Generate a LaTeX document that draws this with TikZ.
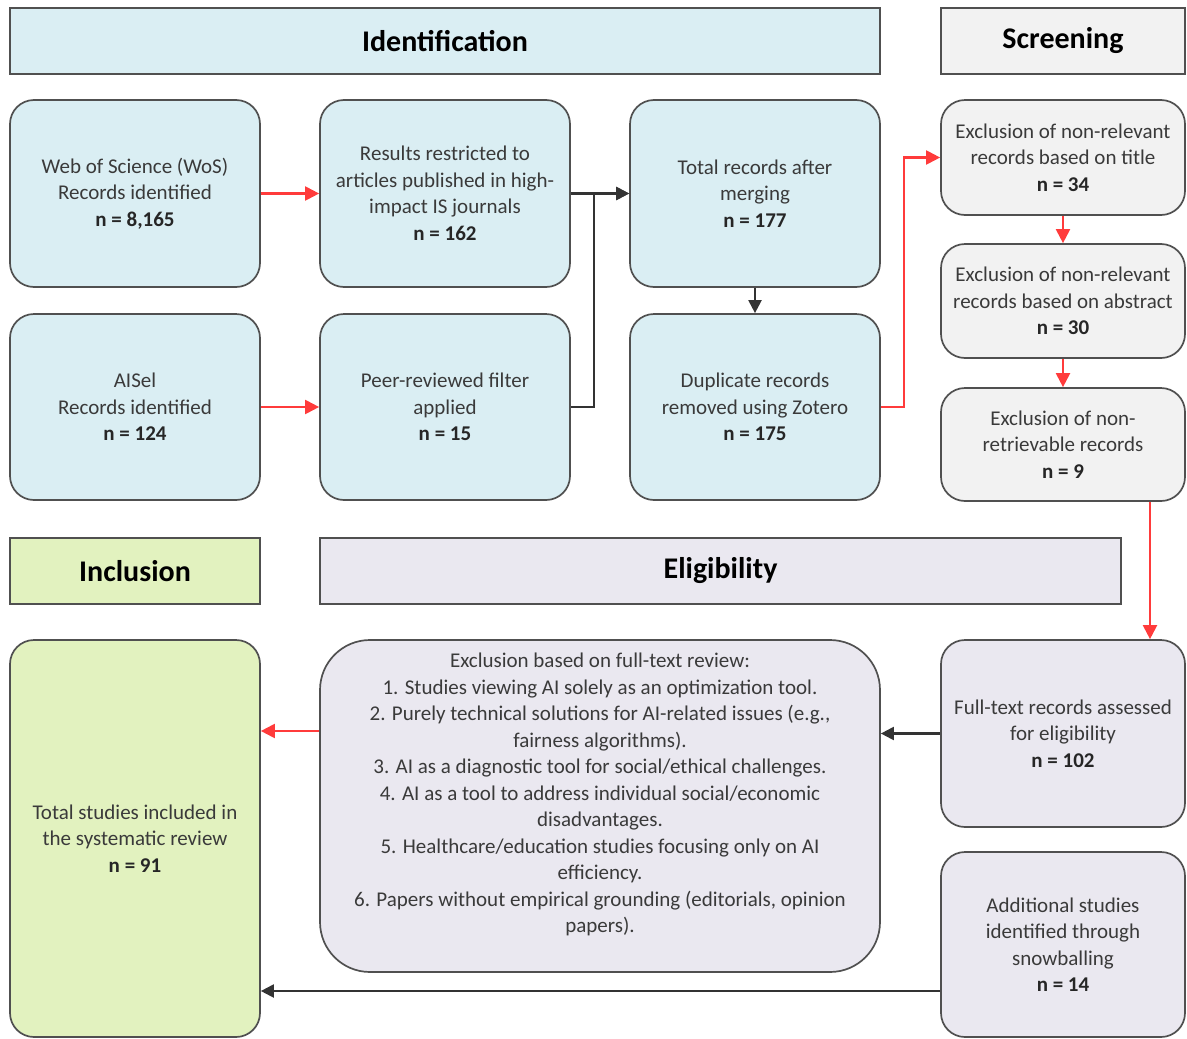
\documentclass[tikz,border=0pt]{standalone}
\usepackage{fontspec}
\setmainfont{Carlito}
\usetikzlibrary{arrows.meta}
\definecolor{bblue}{HTML}{DAEEF3}
\definecolor{bgray}{HTML}{F2F2F2}
\definecolor{bgreen}{HTML}{E2F2BF}
\definecolor{blav}{HTML}{EAE8F0}
\definecolor{edge}{HTML}{505050}
\definecolor{txt}{HTML}{3A3A3A}
\definecolor{rline}{HTML}{FF3B3B}
\definecolor{kline}{HTML}{333333}
\newcommand{\nn}[1]{\textbf{\color{black!85}n = #1}}
\begin{document}
\begin{tikzpicture}[x=1pt,y=-1pt,
 box/.style={draw=edge, line width=1.7pt, rounded corners=24pt, align=center,
   font=\fontsize{21}{26.5}\selectfont, text=txt, inner sep=2pt},
 banner/.style={draw=edge, line width=1.7pt, minimum height=66pt,
   font=\fontsize{30}{34}\selectfont\bfseries, text=black},
 redarr/.style={draw=rline, line width=2.1pt, -{Triangle[length=14pt,width=14pt]}},
 blkarr/.style={draw=kline, line width=2.1pt, -{Triangle[length=13pt,width=13pt]}},
]
\useasboundingbox (0,0) rectangle (1187,1039);
% banners
\node[banner, fill=bblue, minimum width=870pt] (idb) at (445,41) {Identification};
\node[banner, fill=bgray, minimum width=244pt] (scb) at (1063,41) {Screening};
\node[banner, fill=bgreen, minimum width=250pt] (inb) at (135,571) {Inclusion};
\node[banner, fill=blav, minimum width=801pt] (elb) at (720.5,571) {Eligibility};
% identification boxes
\node[box, fill=bblue, minimum width=250pt, minimum height=187pt] (wos) at (135,193.5)
  {Web of Science (WoS)\\Records identified\\\nn{8,165}};
\node[box, fill=bblue, minimum width=250pt, minimum height=187pt] (res) at (445,193.5)
  {Results restricted to\\articles published in high-\\impact IS journals\\\nn{162}};
\node[box, fill=bblue, minimum width=250pt, minimum height=187pt] (tot) at (755,193.5)
  {Total records after\\merging\\\nn{177}};
\node[box, fill=bblue, minimum width=250pt, minimum height=186pt] (ais) at (135,407)
  {AISel\\Records identified\\\nn{124}};
\node[box, fill=bblue, minimum width=250pt, minimum height=186pt] (peer) at (445,407)
  {Peer-reviewed filter\\applied\\\nn{15}};
\node[box, fill=bblue, minimum width=250pt, minimum height=186pt] (dup) at (755,407)
  {Duplicate records\\removed using Zotero\\\nn{175}};
% screening boxes
\node[box, fill=bgray, minimum width=244pt, minimum height=115pt] (ex1) at (1063,157.5)
  {Exclusion of non-relevant\\records based on title\\\nn{34}};
\node[box, fill=bgray, minimum width=244pt, minimum height=114pt] (ex2) at (1063,301)
  {Exclusion of non-relevant\\records based on abstract\\\nn{30}};
\node[box, fill=bgray, minimum width=244pt, minimum height=113pt] (ex3) at (1063,444.5)
  {Exclusion of non-\\retrievable records\\\nn{9}};
% inclusion / eligibility boxes
\node[box, fill=bgreen, minimum width=250pt, minimum height=397pt] (incl) at (135,838.5)
  {Total studies included in\\the systematic review\\\nn{91}};
\node[box, fill=blav, rounded corners=50pt, minimum width=560pt, minimum height=332pt] (excl) at (600,806)
  {Exclusion based on full-text review:\\
   1. Studies viewing AI solely as an optimization tool.\\
   2. Purely technical solutions for AI-related issues (e.g.,\\
   fairness algorithms).\\
   3. AI as a diagnostic tool for social/ethical challenges.\\
   4. AI as a tool to address individual social/economic\\
   disadvantages.\\
   5. Healthcare/education studies focusing only on AI\\
   efficiency.\\
   6. Papers without empirical grounding (editorials, opinion\\
   papers).\\ \mbox{}};
\node[box, fill=blav, minimum width=244pt, minimum height=187pt] (ft) at (1063,733.5)
  {Full-text records assessed\\for eligibility\\\nn{102}};
\node[box, fill=blav, minimum width=244pt, minimum height=185pt] (add) at (1063,944.5)
  {Additional studies\\identified through\\snowballing\\\nn{14}};
% connectors
\draw[redarr] (wos.east) -- (res.west);
\draw[redarr] (ais.east) -- (peer.west);
\draw[blkarr] (res.east) -- (tot.west);
\draw[blkarr] (peer.east) -- ++(23,0) |- (tot.west);
\draw[blkarr] (tot.south) -- (dup.north);
\draw[redarr] (dup.east) -- ++(23,0) |- (ex1.west);
\draw[redarr] (ex1.south) -- (ex2.north);
\draw[redarr] (ex2.south) -- (ex3.north);
\coordinate (xr) at (1150,0);
\draw[redarr] (ex3.south -| xr) -- (ft.north -| xr);
\draw[blkarr] (ft.west) -- (ft.west -| excl.east);
\coordinate (yr) at (0,731);
\draw[redarr] (excl.west |- yr) -- (incl.east |- yr);
\coordinate (yb) at (0,991);
\draw[blkarr] (add.west |- yb) -- (incl.east |- yb);
\end{tikzpicture}
\end{document}
